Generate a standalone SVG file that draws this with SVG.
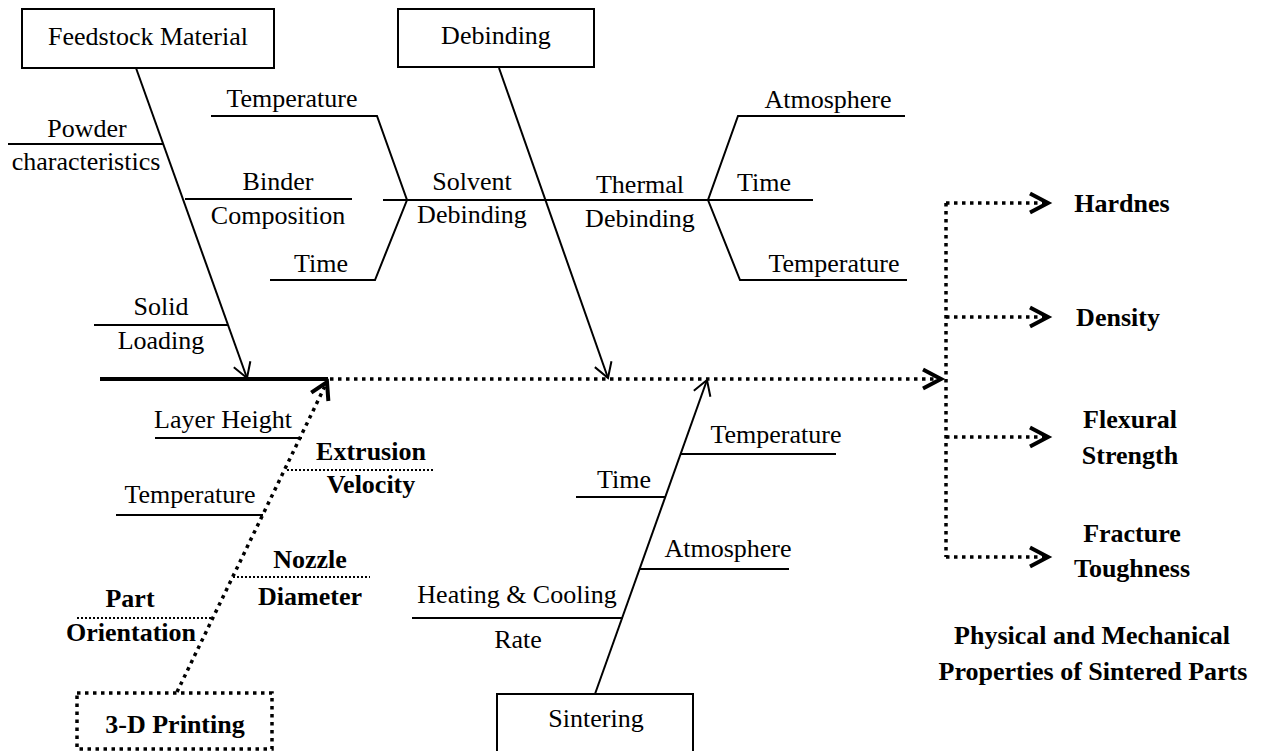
<svg xmlns="http://www.w3.org/2000/svg" width="1264" height="751" viewBox="0 0 1264 751">
<style>
.t{font-family:"Liberation Serif","Times New Roman",serif;font-size:26px;fill:#000;text-anchor:middle}
.b{font-weight:bold}
.box{fill:#fff;stroke:#000;stroke-width:2}
.dbox{fill:#fff;stroke:#000;stroke-width:3.5;stroke-dasharray:3.5 4.5}
.ln{stroke:#000;stroke-width:2;fill:none}
.thick{stroke:#000;stroke-width:4;fill:none}
.dot{stroke:#000;stroke-width:3.5;stroke-dasharray:3.5 4.5;fill:none}
.sdot{stroke:#000;stroke-width:2;stroke-dasharray:2 2;fill:none}
</style>
<defs>
<marker id="thin" markerUnits="userSpaceOnUse" markerWidth="40" markerHeight="40" refX="0" refY="0" orient="auto" overflow="visible">
<path d="M-14.6,-8.8 L0,0 L-14.6,8.8" fill="none" stroke="#000" stroke-width="2"/>
</marker>
<marker id="bold" markerUnits="userSpaceOnUse" markerWidth="40" markerHeight="40" refX="0" refY="0" orient="auto" overflow="visible">
<path d="M-16.5,-9.5 L0,0 L-16.5,9.5" fill="none" stroke="#000" stroke-width="4"/>
</marker>
<marker id="chev" markerUnits="userSpaceOnUse" markerWidth="40" markerHeight="40" refX="0" refY="0" orient="auto" overflow="visible">
<path d="M-18,-9.5 L0,0 L-18,9.5" fill="none" stroke="#000" stroke-width="4"/>
</marker>
</defs>
<rect width="1264" height="751" fill="#fff"/>

<g id="connectors">
<line class="thick" x1="100" y1="379" x2="328" y2="379"/>
<line class="dot" x1="330" y1="379" x2="941" y2="379" marker-end="url(#chev)"/>
<line class="ln" x1="136" y1="68" x2="247" y2="378" marker-end="url(#thin)"/>
<line class="ln" x1="499" y1="68" x2="608" y2="378" marker-end="url(#thin)"/>
<line class="ln" x1="595" y1="694" x2="707" y2="380" marker-end="url(#thin)"/>
<line class="dot" x1="177" y1="692" x2="327" y2="382" marker-end="url(#bold)"/>
<line class="dot" x1="946" y1="203" x2="946" y2="557"/>
<line class="dot" x1="946" y1="203" x2="1048" y2="203" marker-end="url(#chev)"/>
<line class="dot" x1="946" y1="317" x2="1048" y2="317" marker-end="url(#chev)"/>
<line class="dot" x1="946" y1="437" x2="1048" y2="437" marker-end="url(#chev)"/>
<line class="dot" x1="946" y1="557" x2="1048" y2="557" marker-end="url(#chev)"/>
</g>

<g id="feedstock">
<rect class="box" x="22" y="9" width="252" height="59"/>
<text class="t" x="148" y="45">Feedstock Material</text>
</g>
<g id="powder">
<line class="ln" x1="8" y1="144" x2="163" y2="144"/>
<text class="t" x="87" y="137">Powder</text>
<text class="t" x="86" y="170">characteristics</text>
</g>
<g id="binder">
<line class="ln" x1="185" y1="199" x2="352" y2="199"/>
<text class="t" x="278" y="190">Binder</text>
<text class="t" x="278" y="224">Composition</text>
</g>
<g id="solid">
<line class="ln" x1="94" y1="325" x2="228" y2="325"/>
<text class="t" x="161" y="315">Solid</text>
<text class="t" x="161" y="349">Loading</text>
</g>

<g id="debinding">
<rect class="box" x="398" y="9" width="196" height="58"/>
<text class="t" x="496" y="44">Debinding</text>
</g>
<g id="solvent">
<line class="ln" x1="383" y1="200" x2="813" y2="200"/>
<text class="t" x="472" y="190">Solvent</text>
<text class="t" x="472" y="223">Debinding</text>
<polyline class="ln" points="211,116 377,116 407,200 375,280 270,280"/>
<text class="t" x="292" y="107">Temperature</text>
<text class="t" x="321" y="272">Time</text>
</g>
<g id="thermal">
<text class="t" x="640" y="193">Thermal</text>
<text class="t" x="640" y="227">Debinding</text>
<polyline class="ln" points="905,116 738,116 708,200 740,280 907,280"/>
<text class="t" x="828" y="108">Atmosphere</text>
<text class="t" x="764" y="191">Time</text>
<text class="t" x="834" y="272">Temperature</text>
</g>

<g id="printing">
<rect class="dbox" x="77" y="693" width="195" height="56"/>
<text class="t b" x="175" y="733">3-D Printing</text>
</g>
<g id="printing-factors">
<line class="ln" x1="155" y1="438" x2="302" y2="438"/>
<text class="t" x="223" y="428">Layer Height</text>
<line class="sdot" x1="287" y1="470" x2="433" y2="470"/>
<text class="t b" x="371" y="460">Extrusion</text>
<text class="t b" x="371" y="493">Velocity</text>
<line class="ln" x1="116" y1="515" x2="263" y2="515"/>
<text class="t" x="190" y="503">Temperature</text>
<line class="sdot" x1="233" y1="577" x2="370" y2="577"/>
<text class="t b" x="310" y="568">Nozzle</text>
<text class="t b" x="310" y="605">Diameter</text>
<line class="sdot" x1="77" y1="618" x2="213" y2="618"/>
<text class="t b" x="130" y="607">Part</text>
<text class="t b" x="131" y="641">Orientation</text>
</g>

<g id="sintering">
<rect class="box" x="497" y="694" width="196" height="70"/>
<text class="t" x="596" y="727">Sintering</text>
</g>
<g id="sintering-factors">
<line class="ln" x1="681" y1="454" x2="836" y2="454"/>
<text class="t" x="776" y="443">Temperature</text>
<line class="ln" x1="576" y1="497" x2="665" y2="497"/>
<text class="t" x="624" y="488">Time</text>
<line class="ln" x1="639" y1="569" x2="789" y2="569"/>
<text class="t" x="728" y="557">Atmosphere</text>
<line class="ln" x1="412" y1="618" x2="623" y2="618"/>
<text class="t" x="517" y="603">Heating &amp; Cooling</text>
<text class="t" x="518" y="648">Rate</text>
</g>

<g id="properties">
<text class="t b" x="1122" y="212">Hardnes</text>
<text class="t b" x="1118" y="326">Density</text>
<text class="t b" x="1130" y="428">Flexural</text>
<text class="t b" x="1130" y="464">Strength</text>
<text class="t b" x="1132" y="542">Fracture</text>
<text class="t b" x="1132" y="577">Toughness</text>
<text class="t b" x="1092" y="644">Physical and Mechanical</text>
<text class="t b" x="1093" y="680">Properties of Sintered Parts</text>
</g>
</svg>
